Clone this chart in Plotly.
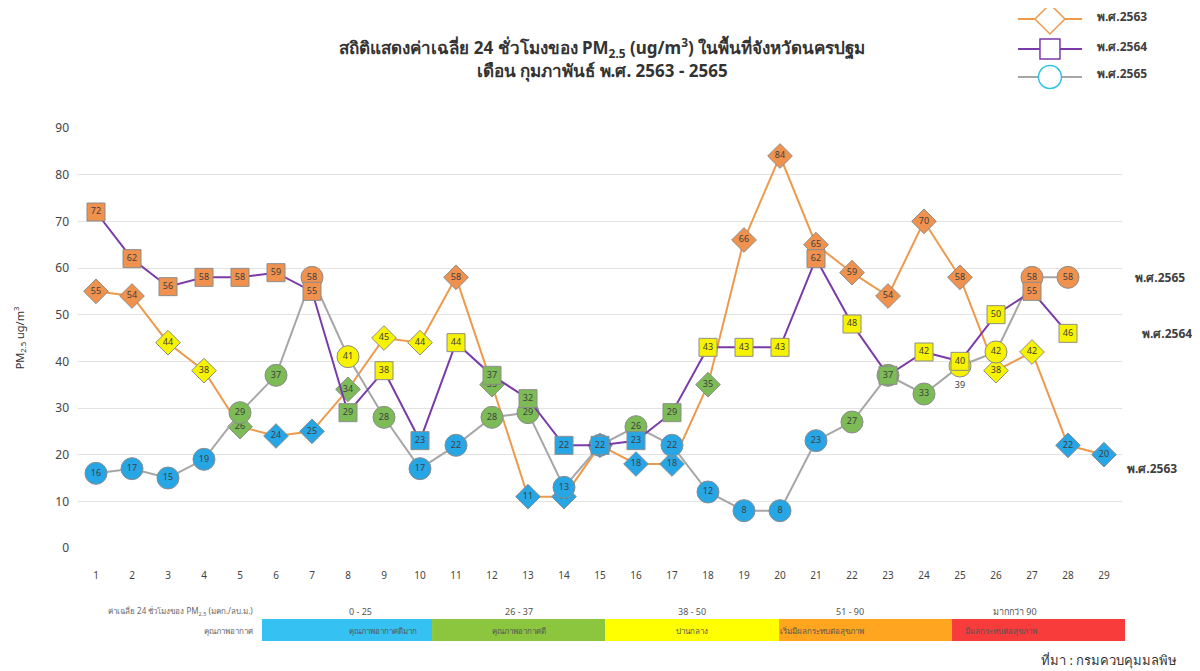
import plotly.graph_objects as go

days = list(range(1, 30))
y2563 = [55, 54, 44, 38, 26, 24, 25, 34, 45, 44, 58, 35, 11, 11, 22, 18, 18, 35, 66, 84, 65, 59, 54, 70, 58, 38, 42, 22, 20]
y2564 = [72, 62, 56, 58, 58, 59, 55, 29, 38, 23, 44, 37, 32, 22, 22, 23, 29, 43, 43, 43, 62, 48, 37, 42, 40, 50, 55, 46]
y2565 = [16, 17, 15, 19, 29, 37, 58, 41, 28, 17, 22, 28, 29, 13, 22, 26, 22, 12, 8, 8, 23, 27, 37, 33, 39, 42, 58, 58]
series_names = ["พ.ศ.2563", "พ.ศ.2564", "พ.ศ.2565"]
yticks = [0, 10, 20, 30, 40, 50, 60, 70, 80, 90]

ranges = ["0 - 25", "26 - 37", "38 - 50", "51 - 90", "มากกว่า 90"]
quality = ["คุณภาพอากาศดีมาก", "คุณภาพอากาศดี", "ปานกลาง", "เริ่มมีผลกระทบต่อสุขภาพ", "มีผลกระทบต่อสุขภาพ"]
band_colors = ["#35c2f2", "#8cc63f", "#ffff00", "#ffa51f", "#f83c3c"]

FONT = "Tahoma, 'Noto Sans', sans-serif"


def cat_color(v):
    if v <= 25:
        return "#27a6e5"
    if v <= 37:
        return "#7dbb57"
    if v <= 50:
        return "#f6f200"
    return "#f0914e"


fig = go.Figure()

line_colors = ["#ee9a4c", "#7a3aa8", "#a6a6a6"]
symbols = ["diamond", "square", "circle"]
sizes = [19, 18, 22]
data = [y2563, y2564, y2565]

# draw order: 2563 bottom, 2565 middle, 2564 top
for idx in [0, 2, 1]:
    ys = data[idx]
    xs = days[:len(ys)]
    tpos = ["middle center"] * len(ys)
    if idx == 2:
        tpos[24] = "bottom center"
    fig.add_trace(go.Scatter(
        x=xs, y=ys, mode="lines+markers+text", name=series_names[idx],
        text=[str(v) for v in ys], textposition=tpos,
        textfont=dict(size=9, color="#404040", family=FONT),
        line=dict(color=line_colors[idx], width=2),
        marker=dict(symbol=symbols[idx], size=sizes[idx],
                    color=[cat_color(v) for v in ys],
                    line=dict(color="#8c8c8c", width=1)),
        showlegend=False, cliponaxis=False, hoverinfo="skip"))

# ---- hand-drawn legend (top right), paper coords relative to plot area
legend_border = ["#ee9a4c", "#7a3aa8", "#2ec5e5"]
leg_y = [1.2595, 1.1881, 1.1214]
leg_ty = [1.2643, 1.1952, 1.1286]
lx0, lx1, lxc, ltx = 0.9004, 0.9617, 0.9310, 0.9741
for i in range(3):
    y = leg_y[i]
    fig.add_shape(type="line", xref="paper", yref="paper", x0=lx0, x1=lx1, y0=y, y1=y,
                  line=dict(color=line_colors[i], width=2))
    if i == 0:
        hx, hy = 0.01437, 0.0357
        path = (f"M {lxc - hx} {y} L {lxc} {y + hy} L {lxc + hx} {y} L {lxc} {y - hy} Z")
        fig.add_shape(type="path", xref="paper", yref="paper", path=path,
                      fillcolor="white", line=dict(color=legend_border[i], width=1.5))
    elif i == 1:
        hx, hy = 0.00958, 0.0238
        fig.add_shape(type="rect", xref="paper", yref="paper",
                      x0=lxc - hx, x1=lxc + hx, y0=y - hy, y1=y + hy,
                      fillcolor="white", line=dict(color=legend_border[i], width=1.5))
    else:
        hx, hy = 0.0110, 0.0274
        fig.add_shape(type="circle", xref="paper", yref="paper",
                      x0=lxc - hx, x1=lxc + hx, y0=y - hy, y1=y + hy,
                      fillcolor="white", line=dict(color=legend_border[i], width=1.5))
    fig.add_annotation(x=ltx, y=leg_ty[i], xref="paper", yref="paper",
                       xanchor="left", yanchor="middle",
                       text="<b>" + series_names[i] + "</b>", showarrow=False,
                       font=dict(size=12, color="#404040", family=FONT))

# end-of-series labels (paper coords)
end_pos = [(1.0029, 0.19, 0), (1.0172, 0.511, 1), (1.0105, 0.644, 2)]
for x, y, i in end_pos:
    fig.add_annotation(x=x, y=y, xref="paper", yref="paper", text="<b>" + series_names[i] + "</b>",
                       showarrow=False, xanchor="left", yanchor="middle",
                       font=dict(size=12, color="#404040", family=FONT))

# bottom quality band
edges = [0.1762, 0.3391, 0.5048, 0.6715, 0.8372, 1.0029]
for i in range(5):
    fig.add_shape(type="rect", xref="paper", yref="paper",
                  x0=edges[i], x1=edges[i + 1], y0=-0.2214, y1=-0.169,
                  fillcolor=band_colors[i], line=dict(width=0), layer="below")
    xc = (edges[i] + edges[i + 1]) / 2
    fig.add_annotation(x=xc, y=-0.150, xref="paper", yref="paper", text=ranges[i],
                       yanchor="middle", showarrow=False,
                       font=dict(size=9, color="#555555", family=FONT))
    fig.add_annotation(x=xc, y=-0.196, xref="paper", yref="paper", text=quality[i],
                       yanchor="middle", showarrow=False,
                       font=dict(size=8, color="#555555", family=FONT))

fig.add_annotation(x=0.170, y=-0.150, xref="paper", yref="paper", xanchor="right", yanchor="middle",
                   text="ค่าเฉลี่ย 24 ชั่วโมงของ PM<sub>2.5</sub> (มคก./ลบ.ม.)",
                   showarrow=False, font=dict(size=8, color="#666666", family=FONT))
fig.add_annotation(x=0.170, y=-0.196, xref="paper", yref="paper", xanchor="right", yanchor="middle",
                   text="คุณภาพอากาศ",
                   showarrow=False, font=dict(size=8, color="#666666", family=FONT))
fig.add_annotation(x=1.055, y=-0.267, xref="paper", yref="paper", xanchor="right", yanchor="middle",
                   text="ที่มา : กรมควบคุมมลพิษ",
                   showarrow=False, font=dict(size=13, color="#333333", family=FONT))

fig.update_layout(
    width=1192, height=663,
    margin=dict(l=70, r=78, t=120, b=123, autoexpand=False),
    paper_bgcolor="white", plot_bgcolor="white",
    font=dict(family=FONT, color="#404040"),
    showlegend=False,
    title=dict(text="<b>สถิติแสดงค่าเฉลี่ย 24 ชั่วโมงของ PM<sub>2.5</sub> (ug/m<sup>3</sup>) ในพื้นที่จังหวัดนครปฐม<br>เดือน กุมภาพันธ์ พ.ศ. 2563 - 2565</b>",
               x=0.4985, xanchor="center", y=0.930, yanchor="top",
               font=dict(size=17, color="#333333", family=FONT)),
    xaxis=dict(range=[0.5, 29.5], tickmode="array", tickvals=days,
               ticktext=[str(d) for d in days], showgrid=False, zeroline=False,
               showline=False, ticklabelstandoff=20,
               tickfont=dict(size=10, color="#444444")),
    yaxis=dict(range=[0, 90], tickmode="array", tickvals=yticks,
               showgrid=True, gridcolor="#e3e3e3", gridwidth=1, zeroline=False,
               ticklabelstandoff=8, tickfont=dict(size=12, color="#444444"),
               title=dict(text="PM<sub>2.5</sub> ug/m<sup>3</sup>", standoff=28,
                          font=dict(size=11, color="#333333"))),
)

fig.write_html("out.html")
